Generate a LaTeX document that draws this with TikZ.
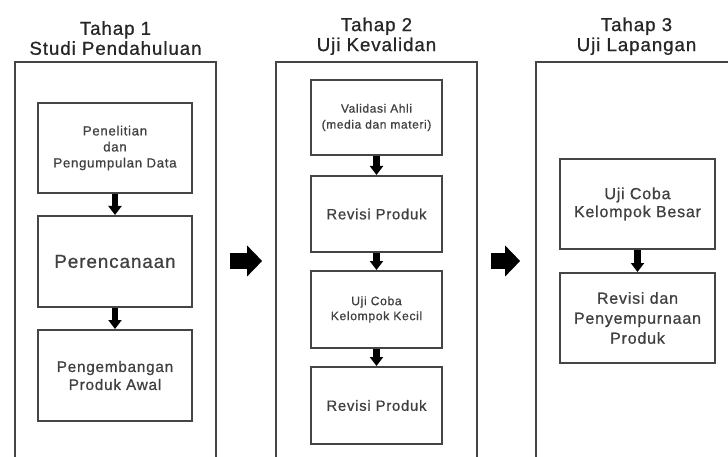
\documentclass[tikz,border=0pt]{standalone}
\usepackage{fontspec}
\setmainfont{Liberation Sans}[LetterSpace=5, FakeBold=0.8]
\usepackage{tikz}
\usetikzlibrary{positioning}
\usetikzlibrary{arrows.meta}
\definecolor{framegray}{rgb}{0.27,0.27,0.27}
\definecolor{textgray}{rgb}{0.25,0.25,0.25}

\begin{document}
\begin{tikzpicture}
[x=1pt, y=-1pt,
 panel/.style={draw=framegray, line width=1.7pt, minimum width=201pt, minimum height=398pt},
 title/.style={align=center, inner sep=0pt, text=black!85, font=\fontsize{18.7}{20}\selectfont},
 box/.style={draw=framegray, line width=2pt, align=center, text=textgray},
 flow/.style={line width=6.5pt, -{Triangle[width=13pt,length=9pt]}},
 bigflow/.style={line width=16pt, -{Triangle[width=30pt,length=15pt]}}]

\useasboundingbox (0,0) rectangle (728,457);
\clip (0,0) rectangle (728,457);

% Panels and their titles:
\node[panel] (tahap1) at (115.5,261) {};
\node[panel] (tahap2) at (376.5,261) {};
\node[panel] (tahap3) at (636.5,261) {};
\node[title, above=6pt of tahap1] (judul1) {Tahap 1\\Studi Pendahuluan};
\node[title, above=6pt of tahap2] (judul2) {Tahap 2\\Uji Kevalidan};
\node[title, above=6pt of tahap3] (judul3) {Tahap 3\\Uji Lapangan};

% Tahap 1:
\node[box, minimum width=154pt, minimum height=90pt, font=\fontsize{13.3}{16}\selectfont]
  (penelitian) at (115,148) {Penelitian\\dan\\Pengumpulan Data};
\node[box, minimum width=154pt, minimum height=91pt, font=\fontsize{18.8}{20}\selectfont]
  (perencanaan) at (115,261.5) {Perencanaan};
\node[box, minimum width=154pt, minimum height=91pt, font=\fontsize{15.3}{18}\selectfont]
  (pengembangan) at (115,375.5) {Pengembangan\\Produk Awal};

% Tahap 2:
\node[box, minimum width=131pt, minimum height=75pt, font=\fontsize{12}{16}\selectfont]
  (validasi) at (376.5,117.5) {Validasi Ahli\\(media dan materi)};
\node[box, minimum width=131pt, minimum height=76pt, font=\fontsize{14.9}{18}\selectfont]
  (revisi1) at (376.5,214) {Revisi Produk};
\node[box, minimum width=131pt, minimum height=77pt, font=\fontsize{12.2}{15}\selectfont]
  (ujikecil) at (376.5,309.5) {Uji Coba\\Kelompok Kecil};
\node[box, minimum width=131pt, minimum height=77pt, font=\fontsize{14.9}{18}\selectfont]
  (revisi2) at (376.5,405.5) {Revisi Produk};

% Tahap 3:
\node[box, minimum width=155pt, minimum height=90pt, font=\fontsize{16}{18}\selectfont]
  (ujibesar) at (637.5,204) {Uji Coba\\Kelompok Besar};
\node[box, minimum width=155pt, minimum height=90pt, font=\fontsize{16}{20}\selectfont]
  (penyempurnaan) at (637.5,318) {Revisi dan\\Penyempurnaan\\Produk};

% Arrows inside the panels:
\draw[flow] (penelitian) -- (perencanaan);
\draw[flow] (perencanaan) -- (pengembangan);
\draw[flow] (validasi) -- (revisi1);
\draw[flow] (revisi1) -- (ujikecil);
\draw[flow] (ujikecil) -- (revisi2);
\draw[flow] (ujibesar) -- (penyempurnaan);

% Arrows between the panels:
\draw[bigflow, shorten <=13pt, shorten >=13pt] (tahap1) -- (tahap2);
\draw[bigflow, shorten <=13pt, shorten >=15pt] (tahap2) -- (tahap3);

\end{tikzpicture}
\end{document}
